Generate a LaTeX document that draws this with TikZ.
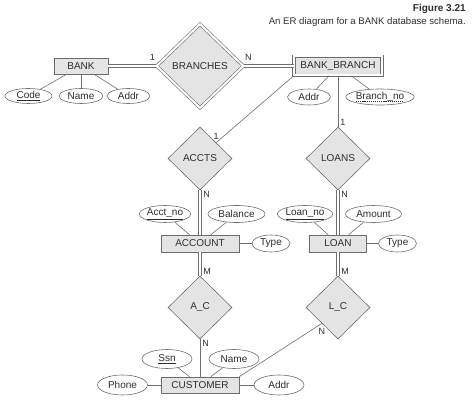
\documentclass[tikz,border=0pt]{standalone}
\usepackage{fontspec}
\setmainfont{Liberation Sans}
\usetikzlibrary{shapes.geometric,positioning}
\definecolor{erline}{HTML}{6E6E6E}
\definecolor{erfill}{HTML}{E4E4E4}
\definecolor{ertext}{HTML}{2E2E2E}
\tikzset{
  entity/.style={draw, fill=erfill, minimum width=#1, minimum height=16pt, inner sep=0pt},
  entity/.default=54pt,
  weak/.style={entity=#1, double=white, double distance=2pt, minimum height=19pt},
  rel/.style={diamond, draw, fill=erfill, inner sep=0pt, minimum width=64pt, minimum height=63pt},
  weakrel/.style={rel, double=white, double distance=2pt, minimum width=87pt, minimum height=84pt},
  attr/.style={ellipse, draw, fill=white, inner sep=0pt, minimum width=#1, minimum height=17pt},
  attr/.default=44pt,
  total/.style={double=white, double distance=2pt},
  card/.style={inner sep=1pt, font=\fontsize{9}{10}\selectfont},
  partkey/.style={draw=ertext, line width=0.4pt, dash pattern=on 1.2pt off 0.9pt},
}
\begin{document}
\begin{tikzpicture}[x=1pt, y=1pt, on grid, color=erline, text=ertext, line width=0.6pt,
    font=\fontsize{10}{12}\selectfont]
  \useasboundingbox (0,0) rectangle (474,-411);
  % caption
  \node[anchor=east, inner sep=0pt, font=\fontsize{10}{12}\selectfont\bfseries] (figno) at (466,-9) {Figure 3.21};
  \node[anchor=east, inner sep=0pt, font=\fontsize{9.6}{12}\selectfont] (figcap) at (466,-22) {An ER diagram for a BANK database schema.};

  % entities and relationships
  \node[entity] (bank) at (81,-66) {BANK};
  \node[weakrel] (branches) [right=119pt of bank] {BRANCHES};
  \node[weak=88pt] (bbranch) [right=138pt of branches] {BANK\_BRANCH};
  \node[rel] (accts) [below=92.5pt of branches] {ACCTS};
  \node[rel] (loans) [right=138pt of accts] {LOANS};
  \node[entity=78pt, minimum height=17pt] (account) [below=85pt of accts] {ACCOUNT};
  \node[entity=57pt, minimum height=17pt] (loan) [below=85pt of loans] {LOAN};
  \node[rel] (ac) [below=64pt of account] {A\_C};
  \node[rel] (lc) [below=64pt of loan] {L\_C};
  \node[entity=78pt] (customer) [below=77.5pt of ac] {CUSTOMER};

  % attributes
  \node[attr=47pt, minimum height=15pt] (code) [below left=30pt and 52.5pt of bank] {\underline{Code}};
  \node[attr, minimum height=15pt] (bname) [below=30pt of bank] {Name};
  \node[attr=43pt, minimum height=15pt] (baddr) [below right=30pt and 47.5pt of bank] {Addr};
  \node[attr=43pt, minimum height=16pt] (braddr) [below left=31pt and 29pt of bbranch] {Addr};
  \node[attr=66pt, minimum height=16pt] (brno) [below right=31pt and 42pt of bbranch] {Branch\_no};
  \node[attr] (acctno) [above left=29.5pt and 35pt of account] {\underline{Acct\_no}};
  \node[attr=57pt] (balance) [above right=29.5pt and 36.5pt of account] {Balance};
  \node[attr=38pt] (atype) [right=71pt of account] {Type};
  \node[attr=51pt] (loanno) [above left=29.5pt and 33pt of loan] {\underline{Loan\_no}};
  \node[attr=56pt] (amount) [above right=29.5pt and 35.5pt of loan] {Amount};
  \node[attr=38pt] (ltype) [right=59.5pt of loan] {Type};
  \node[attr=50pt, minimum height=19pt] (ssn) [above left=26pt and 33pt of customer] {\underline{Ssn}};
  \node[attr=50pt, minimum height=19pt] (cname) [above right=26pt and 34pt of customer] {Name};
  \node[attr=50pt, minimum height=20pt] (phone) [left=77.5pt of customer] {Phone};
  \node[attr=50pt, minimum height=20pt] (caddr) [right=79pt of customer] {Addr};
  % partial key
  \draw[partkey] ([xshift=-24pt, yshift=-4.4pt]brno.center) -- ([xshift=24pt, yshift=-4.4pt]brno.center);

  % relationship lines
  \path
    (bank) edge[total] node[card, at end, anchor=south east, yshift=4pt] {1} (branches)
    (branches) edge[total] node[card, at start, anchor=south west, yshift=4pt] {N} (bbranch)
    (bbranch.south west) edge node[card, at end, above=2pt] {1} (accts.north east)
    (bbranch) edge node[card, at end, anchor=south west, xshift=1pt] {1} (loans)
    (accts) edge[total] node[card, at start, anchor=north west, xshift=2pt] {N} (account)
    (loans) edge[total] node[card, at start, anchor=north west, xshift=2pt] {N} (loan)
    (account) edge[total] node[card, at end, anchor=south west, xshift=2pt] {M} (ac)
    (loan) edge[total] node[card, at end, anchor=south west, xshift=2pt] {M} (lc)
    (ac) edge node[card, at start, anchor=north west, xshift=1pt] {N} (customer)
    (lc.south west) edge node[card, at start, below=4pt] {N} (customer.north east);

  % attribute lines
  \path
    (code) edge (bank) (bname) edge (bank) (baddr) edge (bank)
    (braddr) edge (bbranch) (brno) edge (bbranch)
    (acctno) edge (account) (balance) edge (account) (atype) edge (account)
    (loanno) edge (loan) (amount) edge (loan) (ltype) edge (loan)
    (ssn) edge (customer) (cname) edge (customer)
    (phone) edge (customer) (caddr) edge (customer);
\end{tikzpicture}
\end{document}
